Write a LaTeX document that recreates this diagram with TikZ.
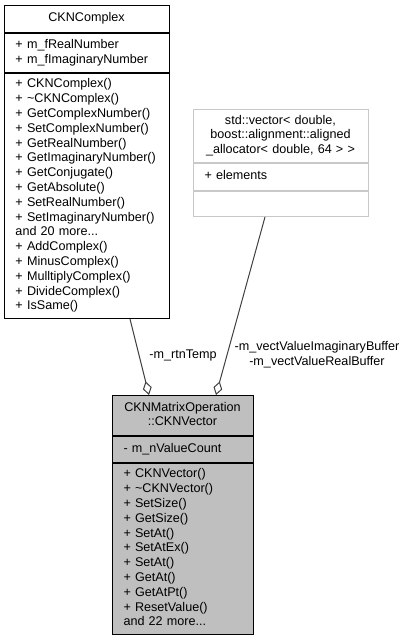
\documentclass[tikz,border=0pt]{standalone}
\usepackage{fontspec}
\setmainfont{Liberation Sans}
\usepackage{tikz}
\usetikzlibrary{arrows.meta}

\definecolor{classfill}{HTML}{BFBFBF}
\definecolor{classline}{HTML}{C8C8C8}
\definecolor{edgegray}{HTML}{404040}

\tikzset{
	classpart/.style = {draw, rectangle, anchor = north, line width = 1pt, inner xsep = 11.5pt, inner ysep = 0pt, align = left, execute at begin node = \strut, execute at end node = \strut},
	classtitle/.style = {classpart, align = center},
	member/.style = {line width = 1pt, draw = edgegray, -{Diamond[open, length = 14pt, width = 9pt]}}
}

\begin{document}
\begin{tikzpicture}[x = 1pt, y = -1pt, font = \fontsize{12.6}{14.8}\selectfont]
			\useasboundingbox (0,0) rectangle (407,639);

			\def\wC{165};
			\def\wS{175};
			\def\wV{141};

			\begin{scope}
				\node [classtitle, text width = \wC pt - 23pt, minimum height = 27pt] (complexTitle) at (86.5,5) {CKNComplex};
				\node [classpart, text width = \wC pt - 23pt, minimum height = 39pt] (complexAttr) at (complexTitle.south) {+ m\_fRealNumber\\+ m\_fImaginaryNumber};
				\node [classpart, text width = \wC pt - 23pt, minimum height = 245pt] (complexOps) at (complexAttr.south) {+ CKNComplex()\\+ \textasciitilde CKNComplex()\\+ GetComplexNumber()\\+ SetComplexNumber()\\+ GetRealNumber()\\+ GetImaginaryNumber()\\+ GetConjugate()\\+ GetAbsolute()\\+ SetRealNumber()\\+ SetImaginaryNumber()\\and 20 more...\\+ AddComplex()\\+ MinusComplex()\\+ MulltiplyComplex()\\+ DivideComplex()\\+ IsSame()};
			\end{scope}

			\begin{scope}[every node/.append style = {draw = classline}]
				\node [classtitle, text width = \wS pt - 23pt, minimum height = 53pt] (stdTitle) at (280.5,109) {std::vector< double,\\ boost::alignment::aligned\\\_allocator< double, 64 > >};
				\node [classpart, text width = \wS pt - 23pt, minimum height = 27pt] (stdAttr) at (stdTitle.south) {+ elements};
				\node [classpart, text width = \wS pt - 23pt, minimum height = 25pt] (stdOps) at (stdAttr.south) {};
			\end{scope}

			\begin{scope}[every node/.append style = {fill = classfill}]
				\node [classtitle, text width = \wV pt - 23pt, minimum height = 40pt] (vectorTitle) at (182.5,395) {CKNMatrixOperation\\::CKNVector};
				\node [classpart, text width = \wV pt - 23pt, minimum height = 26pt] (vectorAttr) at (vectorTitle.south) {- m\_nValueCount};
				\node [classpart, text width = \wV pt - 23pt, minimum height = 171pt] (vectorOps) at (vectorAttr.south) {+ CKNVector()\\+ \textasciitilde CKNVector()\\+ SetSize()\\+ GetSize()\\+ SetAt()\\+ SetAtEx()\\+ SetAt()\\+ GetAt()\\+ GetAtPt()\\+ ResetValue()\\and 22 more...};
			\end{scope}

			\begin{scope}
				\draw [member] ([xshift = 43.5pt]complexOps.south) -- ([xshift = -33.5pt]vectorTitle.north);
				\draw [member] ([xshift = -15.5pt]stdOps.south) -- ([xshift = 33.5pt]vectorTitle.north);
			\end{scope}

			\begin{scope}
				\node (rtnTempLabel) at (183,355) {-m\_rtnTemp};
				\node [align = center] (bufferLabel) at (317,355) {-m\_vectValueImaginaryBuffer\\-m\_vectValueRealBuffer};
			\end{scope}
		\end{tikzpicture}
\end{document}
